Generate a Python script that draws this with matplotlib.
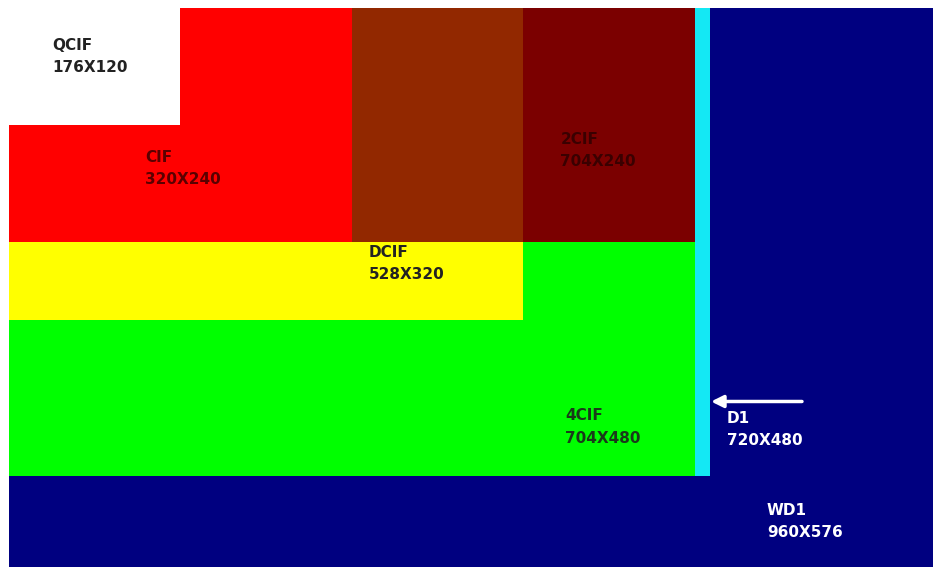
import matplotlib
matplotlib.use("Agg")
import matplotlib.pyplot as plt
from matplotlib.patches import Rectangle

# Rectangles drawn back to front (width, height in pixels of the format)
rect_names = ["WD1", "D1", "4CIF", "2CIF", "DCIF", "DCIF_top", "CIF", "QCIF"]
rect_widths = [960, 720, 704, 704, 528, 528, 352, 176]
rect_heights = [576, 480, 480, 240, 320, 240, 240, 120]
rect_colors = ["#000080", "#14E8F4", "#00FF00", "#7B0000", "#FFFF00", "#922800", "#FF0000", "#FFFFFF"]

# Labels
label_text = ["QCIF\n176X120", "CIF\n320X240", "DCIF\n528X320", "2CIF\n704X240",
              "4CIF\n704X480", "D1\n720X480", "WD1\n960X576"]
label_x = [44, 140, 369, 566, 571, 737, 778]
label_y = [31, 146, 243, 127, 411, 414, 508]
label_colors = ["#222222", "#5A0000", "#222222", "#3A0000", "#1A3A1A", "#FFFFFF", "#FFFFFF"]

fig = plt.figure(figsize=(9.33, 5.67), dpi=100)
ax = fig.add_axes([9 / 933, 0, 924 / 933, 559 / 567])
ax.set_xlim(0, 924 / 0.974)
ax.set_ylim(559 / 0.974, 0)
ax.axis("off")

for w, h, c in zip(rect_widths, rect_heights, rect_colors):
    ax.add_patch(Rectangle((0, 0), w, h, facecolor=c, edgecolor="none"))

for t, x, y, c in zip(label_text, label_x, label_y, label_colors):
    ax.text(x, y, t, color=c, fontsize=11, fontweight="bold", family="DejaVu Sans",
            ha="left", va="top", linespacing=1.6)

# Arrow pointing to D1 edge
ax.annotate("", xy=(718, 404), xytext=(817, 404),
            arrowprops=dict(arrowstyle="-|>", color="white", lw=2.5, mutation_scale=18))

fig.savefig("out.png", dpi=100)
